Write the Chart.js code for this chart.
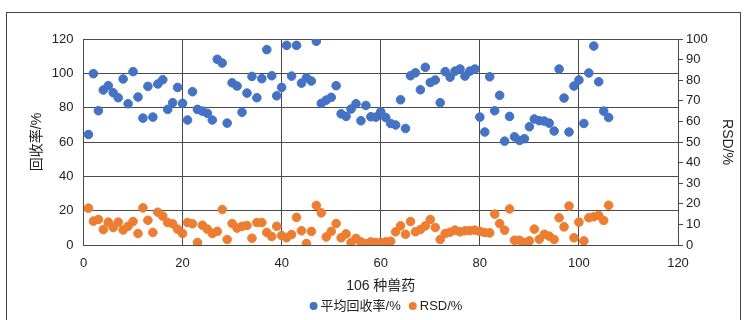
<!DOCTYPE html>
<html>
<head>
<meta charset="utf-8">
<script src="https://cdn.jsdelivr.net/npm/chart.js@4/dist/chart.umd.min.js"></script>
<style>
  html, body { margin: 0; padding: 0; background: #fff; }
  #wrap { width: 746px; height: 320px; }
</style>
</head>
<body>
<div id="wrap"><canvas id="scatterChart" width="746" height="320"></canvas></div>
<script>
// 平均回收率/% for drug 1..106 (left axis)
const recovery = [
  64.4, 99.8, 78.2, 90.3, 92.8, 88.7, 85.8, 96.7, 82.3, 101.0,
  86.2, 73.9, 92.4, 74.5, 93.8, 96.3, 79.0, 82.9, 91.8, 82.5,
  72.8, 89.3, 79.0, 78.0, 76.7, 72.8, 108.2, 106.0, 71.0, 94.5,
  92.6, 77.3, 88.5, 98.2, 85.8, 96.9, 113.8, 98.6, 86.9, 91.8,
  116.3, 98.4, 116.3, 94.3, 97.4, 95.5, 118.7, 82.5, 84.4, 86.0,
  92.8, 76.4, 74.9, 79.2, 82.3, 72.4, 81.3, 74.7, 74.5, 77.6,
  74.3, 70.8, 69.9, 84.6, 67.9, 98.6, 100.3, 90.4, 103.5, 94.7,
  96.1, 82.9, 101.0, 97.8, 101.3, 102.5, 98.4, 101.3, 102.5, 74.5,
  65.8, 98.0, 78.2, 87.2, 60.5, 74.9, 63.0, 60.9, 61.9, 68.9,
  73.4, 72.4, 72.2, 71.0, 66.4, 102.5, 85.6, 65.8, 92.6, 96.1,
  70.8, 100.2, 115.9, 95.1, 78.0, 74.3
];

// RSD/% for drug 1..106 (right axis)
const rsd = [
  17.9, 11.6, 12.4, 7.5, 11.1, 8.5, 11.1, 7.3, 9.1, 11.4,
  5.6, 18.0, 12.0, 6.1, 15.9, 14.0, 10.9, 10.3, 7.7, 5.6,
  10.9, 10.3, 1.2, 9.6, 7.7, 5.6, 6.6, 17.2, 2.7, 10.4,
  8.2, 9.1, 9.5, 3.3, 10.9, 10.9, 6.1, 4.1, 9.1, 4.6,
  3.5, 5.1, 13.4, 6.9, 0.7, 6.6, 19.2, 15.6, 3.9, 6.6,
  10.4, 3.5, 5.4, 1.2, 3.2, 1.5, 0.7, 1.5, 1.2, 1.2,
  1.5, 1.8, 6.4, 9.3, 5.2, 11.4, 6.4, 7.5, 9.3, 12.4,
  8.5, 2.7, 5.6, 6.2, 7.2, 6.4, 6.9, 7.0, 7.2, 6.6,
  6.1, 5.9, 15.0, 10.4, 7.2, 17.5, 2.3, 2.3, 1.2, 2.0,
  7.7, 2.8, 5.2, 4.3, 2.7, 13.2, 8.8, 18.9, 3.5, 11.1,
  2.0, 13.2, 13.7, 14.3, 11.9, 19.3
];

const seriesNames = ['平均回收率/%', 'RSD/%'];
const seriesColors = ['#4472C4', '#ED7D31'];

const FONT = "'Liberation Sans', 'Noto Sans CJK SC', sans-serif";
const gridColor = '#4a4a4a';

const toPoints = (arr) => arr.map((v, i) => ({ x: i + 1, y: v }));

// outer frame + legend drawn by hand (Excel style)
const framePlugin = {
  id: 'frameAndLegend',
  afterDraw(chart) {
    const ctx = chart.ctx;
    ctx.save();
    ctx.strokeStyle = '#444';
    ctx.lineWidth = 1;
    ctx.strokeRect(6.5, 12.5, 734, 330);

    ctx.font = '13px ' + FONT;
    ctx.textBaseline = 'middle';
    const y = 306;
    const w0 = ctx.measureText(seriesNames[0]).width;
    const w1 = ctx.measureText(seriesNames[1]).width;
    const total = 8 + 3 + w0 + 8 + 8 + 3 + w1;
    let x = 386 - total / 2;
    seriesNames.forEach((name, k) => {
      ctx.fillStyle = seriesColors[k];
      ctx.beginPath();
      ctx.arc(x + 4, y, 4, 0, Math.PI * 2);
      ctx.fill();
      ctx.fillStyle = '#222';
      ctx.fillText(name, x + 11, y);
      x += 11 + (k === 0 ? w0 : w1) + 8;
    });
    ctx.restore();
  }
};

const ctx = document.getElementById('scatterChart').getContext('2d');
const myChart = new Chart(ctx, {
  type: 'scatter',
  data: {
    datasets: [
      {
        label: seriesNames[0],
        data: toPoints(recovery),
        yAxisID: 'y',
        backgroundColor: seriesColors[0],
        borderColor: seriesColors[0],
        pointRadius: 4.3,
        pointHoverRadius: 4.3,
      },
      {
        label: seriesNames[1],
        data: toPoints(rsd),
        yAxisID: 'y2',
        backgroundColor: seriesColors[1],
        borderColor: seriesColors[1],
        pointRadius: 4.3,
        pointHoverRadius: 4.3,
      },
    ],
  },
  options: {
    responsive: false,
    animation: false,
    layout: { padding: { top: 39, left: 0, right: 0, bottom: 0 } },
    plugins: {
      legend: { display: false },
      tooltip: { enabled: false },
    },
    scales: {
      x: {
        type: 'linear',
        min: 0,
        max: 120,
        ticks: { stepSize: 20, padding: 11, color: '#222', font: { family: FONT, size: 13 } },
        grid: { color: gridColor, drawTicks: false },
        border: { color: gridColor },
        title: {
          display: true,
          text: '106 种兽药',
          color: '#222',
          font: { family: FONT, size: 14 },
          padding: { top: 0, bottom: 25.6 },
        },
        afterFit: (scale) => { scale.height = 75; },
      },
      y: {
        position: 'left',
        min: 0,
        max: 120,
        ticks: { stepSize: 20, padding: 10, color: '#222', font: { family: FONT, size: 13 } },
        grid: { color: gridColor, drawTicks: false },
        border: { color: gridColor },
        title: {
          display: true,
          text: '回收率/%',
          color: '#222',
          font: { family: FONT, size: 14 },
          padding: { top: 28.6, bottom: 0 },
        },
        afterFit: (scale) => { scale.width = 83.5; },
      },
      y2: {
        position: 'right',
        min: 0,
        max: 100,
        ticks: { stepSize: 10, padding: 3, color: '#222', font: { family: FONT, size: 13 } },
        grid: { drawOnChartArea: false, color: gridColor, tickLength: 5 },
        border: { color: gridColor },
        title: {
          display: true,
          text: 'RSD/%',
          color: '#222',
          font: { family: FONT, size: 14 },
          padding: { top: 10.6, bottom: 0 },
        },
        afterFit: (scale) => { scale.width = 68; },
      },
    },
  },
  plugins: [framePlugin],
});
</script>
</body>
</html>
